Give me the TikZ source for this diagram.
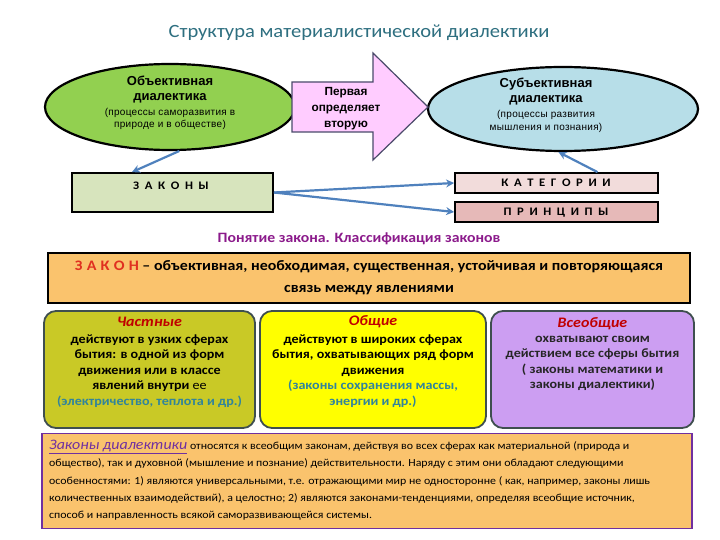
\documentclass[tikz,border=0pt]{standalone}
\usepackage{fontspec}
\usepackage{graphicx}
\setmainfont{Carlito}[FakeStretch=1.1]
\newfontfamily\arialf{Liberation Sans}
\newfontfamily\arialsp{Liberation Sans}[LetterSpace=3]
\usetikzlibrary{shapes.geometric,arrows.meta,calc}
\newcommand{\lsp}{\hspace{5.6pt}}
\newcommand{\lspb}{\hspace{4.2pt}}
\definecolor{titlecol}{HTML}{2E6F80}
\definecolor{greenell}{HTML}{92D050}
\definecolor{blueell}{HTML}{B7DEE8}
\definecolor{pinkarr}{HTML}{FFCCFF}
\definecolor{arredge}{HTML}{4A4A6A}
\definecolor{zakfill}{HTML}{D7E4BD}
\definecolor{katfill}{HTML}{F2DCDB}
\definecolor{prinfill}{HTML}{E6B9B8}
\definecolor{connblue}{HTML}{4F81BD}
\definecolor{headcol}{HTML}{8B1A8B}
\definecolor{orangefill}{HTML}{FAC36D}
\definecolor{lawred}{HTML}{E03020}
\definecolor{olivefill}{HTML}{C9C926}
\definecolor{yellowfill}{HTML}{FFFF00}
\definecolor{lilacfill}{HTML}{CC9EF2}
\definecolor{kindedge}{HTML}{3F4F4F}
\definecolor{titred}{HTML}{C00000}
\definecolor{tealtxt}{HTML}{31849B}
\definecolor{purpleedge}{HTML}{7030A0}
\begin{document}
\begin{tikzpicture}[x=1pt,y=-1pt,
  ell/.style={ellipse, draw=black, line width=2.2pt, inner sep=0pt},
  ellbig/.style={font=\arialf\bfseries\fontsize{13}{15}\selectfont, inner sep=0pt, align=center},
  ellsmall/.style={font=\arialsp\fontsize{10}{12.5}\selectfont, inner sep=0pt, align=center},
  flatbox/.style={draw=black, line width=1.8pt, inner sep=0pt},
  spaced/.style={font=\bfseries\fontsize{11.5}{13}\selectfont},
  conn/.style={draw=connblue, line width=2.2pt, -{Stealth[length=8pt,width=8pt]}},
  kindbox/.style={draw=kindedge, line width=1.8pt, rounded corners=12pt, inner sep=0pt},
  kindtxt/.style={font=\bfseries\fontsize{12.8}{15.4}\selectfont, align=center, anchor=north, inner sep=0pt},
  kindtitle/.style={font=\bfseries\itshape\fontsize{14.5}{16}\selectfont, text=titred, anchor=center, inner sep=0pt}
]
\useasboundingbox (0,0) rectangle (720,540);

% title
\node[font=\fontsize{18.7}{22}\selectfont, text=titlecol] (title) at (359,33) {Структура материалистической диалектики};

% ellipses
\node[ell, fill=greenell, minimum width=250pt, minimum height=86pt] (obj) at (170,107) {};
\node[ellbig] (objbig) at (170,89.5) {Объективная\\диалектика};
\node[ellsmall] (objsmall) at (170,119) {(процессы саморазвития в\\природе и в обществе)};

\node[ell, fill=blueell, minimum width=270pt, minimum height=84pt] (subj) at (563,109) {};
\node[ellbig] (subjbig) at (546,91.5) {Субъективная\\диалектика};
\node[ellsmall] (subjsmall) at (546,121.5) {(процессы развития\\мышления и познания)};

% block arrow
\draw[fill=pinkarr, draw=arredge, line width=1.2pt] (292,82) -- (373,82) -- (373,53) -- (428,107) -- (373,160) -- (373,132) -- (292,132) -- cycle;
\node[align=center, inner sep=0pt, font=\arialf\bfseries\fontsize{11.8}{16}\selectfont] (arrtxt) at (346,109) {Первая\\определяет\\вторую};

% law / category / principle boxes
\node[flatbox, fill=zakfill, minimum width=201pt, minimum height=39pt] (zak) at (172.5,192.5) {};
\node[spaced, inner sep=0pt] (zaktxt) at (171,186) {З\lsp А\lsp К\lsp О\lsp Н\lsp Ы};
\node[flatbox, fill=katfill, minimum width=203pt, minimum height=20pt] (kat) at (556.5,183) {};
\node[spaced, inner sep=0pt] (kattxt) at (556,183) {К\lsp А\lsp Т\lsp Е\lsp Г\lsp О\lsp Р\lsp И\lsp И};
\node[flatbox, fill=prinfill, minimum width=203pt, minimum height=20pt] (prin) at (556.5,212) {};
\node[spaced, inner sep=0pt] (printxt) at (556,213) {П\lsp Р\lsp И\lsp Н\lsp Ц\lsp И\lsp П\lsp Ы};

% connectors
\draw[conn] (obj.-78) -- ($(zak.north west)!0.3!(zak.north east)$);
\draw[conn] ($(kat.north west)!0.7!(kat.north east)$) -- (subj.-96);
\draw[conn] (zak.east) -- (kat.west);
\draw[conn] (zak.east) -- (prin.west);

% heading
\node[font=\bfseries\fontsize{14.3}{16}\selectfont, text=headcol] (head) at (359,239) {Понятие закона. Классификация законов};

% law definition
\node[flatbox, fill=orangefill, minimum width=642pt, minimum height=50pt] (lawdef) at (369,278) {};
\node[align=center, inner sep=0pt, font=\bfseries\fontsize{14.5}{22}\selectfont] (lawtxt) at (369,278) {{\color{lawred}З\lspb А\lspb К\lspb О\lspb Н} – объективная, необходимая, существенная, устойчивая и повторяющаяся\\связь между явлениями};

% three kinds
\node[kindbox, fill=olivefill, minimum width=211pt, minimum height=117pt] (part) at (149.5,369.5) {};
\node[kindtitle] (parttit) at (149.5,322) {Частные};
\node[kindtxt] (parttxt) at (149.5,334.5) {действуют в узких сферах\\бытия: в одной из форм\\движения или  в классе\\явлений внутри {\mdseries ее}\\{\color{tealtxt}(электричество, теплота и др.)}};

\node[kindbox, fill=yellowfill, minimum width=226pt, minimum height=117pt] (gen) at (373,369.5) {};
\node[kindtitle] (gentit) at (373,322) {Общие};
\node[kindtxt] (gentxt) at (373,334.5) {действуют в широких сферах\\бытия, охватывающих ряд форм\\движения\\{\color{tealtxt}(законы сохранения массы,}\\{\color{tealtxt}энергии и др.)}};

\node[kindbox, fill=lilacfill, minimum width=203pt, minimum height=117pt] (univ) at (592.5,369.5) {};
\node[kindtitle] (univtit) at (592.5,324) {Всеобщие};
\node[kindtxt, text=black!85] (univtxt) at (592.5,336) {охватывают своим\\действием все сферы бытия\\( законы математики и\\законы диалектики)};

% bottom paragraph
\node[draw=purpleedge, line width=1.8pt, fill=orangefill, minimum width=650pt, minimum height=95pt, inner sep=0pt] (para) at (367,481) {};
\node[align=left, anchor=north west, inner sep=0pt, font=\fontsize{10.8}{17.3}\selectfont] (paratxt) at (49,440) {{\color{purpleedge}\fontsize{14.5}{17.3}\selectfont\itshape\underline{Законы диалектики}} относятся к  всеобщим законам,  действуя во всех сферах  как  материальной  (природа и\\общество), так и духовной (мышление и познание) действительности. Наряду с этим они обладают следующими\\особенностями:  1) являются универсальными, т.е. отражающими мир не односторонне ( как, например, законы лишь\\количественных взаимодействий),  а  целостно;  2) являются законами-тенденциями, определяя всеобщие источник,\\способ и направленность всякой саморазвивающейся системы.};
\end{tikzpicture}
\end{document}
